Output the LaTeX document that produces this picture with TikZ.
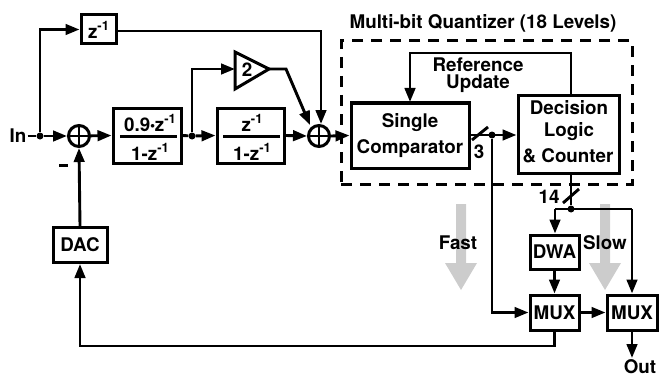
\documentclass[tikz,border=0pt]{standalone}
\usepackage{fontspec}
\setmainfont{TeX Gyre Heros}
\usetikzlibrary{arrows.meta}
\newcommand{\zinv}{z\raisebox{0.42em}{\fontsize{13}{13}\selectfont -1}}
\newcommand{\smdot}{\raisebox{0.17em}{\fontsize{9}{9}\selectfont$\bullet$}}
\tikzset{
  conn/.style={line width=2.9pt,line join=miter},
  arr/.style={conn,-{Triangle[length=14pt,width=10.5pt]}},
  blk/.style={draw,line width=3pt,fill=white,inner sep=0pt,align=center,font=\fontsize{18.8}{24}\selectfont\bfseries},
  lbl/.style={inner sep=0pt,align=center,font=\fontsize{18.8}{19}\selectfont\bfseries},
  sumnode/.style={circle,draw,line width=3pt,minimum size=21pt,inner sep=0pt,fill=white,
    path picture={\draw[line width=2.7pt] (path picture bounding box.north)--(path picture bounding box.south)
      (path picture bounding box.west)--(path picture bounding box.east);}},
  dotnode/.style={circle,fill=black,inner sep=0pt,minimum size=7pt},
  grayarrow/.style={fill=black!20,draw=none}
}
\begin{document}
\begin{tikzpicture}[x=1pt,y=-1pt]
\useasboundingbox (0,0) rectangle (660,377);
% gray flow arrows
\fill[grayarrow] (456,204)--(466,204)--(466,263)--(477,263)--(461,290)--(445,263)--(456,263)--cycle;
\fill[grayarrow] (600,204)--(610,204)--(610,263)--(621,263)--(605,290)--(589,263)--(600,263)--cycle;
% dashed quantizer box
\node[draw,dash pattern=on 11pt off 8pt,line width=3pt,minimum width=291pt,minimum height=143pt,inner sep=0pt] (qbox) at (486.5,112.5) {};
\node[lbl] (qtitle) at (483,23) {Multi-bit Quantizer (18 Levels)};
% blocks
\node[blk,minimum width=35pt,minimum height=29pt] (zd) at (98.5,29.5) {\zinv};
\node[sumnode] (s1) at (79,136) {};
\node[sumnode] (s2) at (319,136) {};
\node[blk,minimum width=68pt,minimum height=55pt] (h1) at (147,135.5) {};
\node[lbl] (h1n) at (150,123) {0.9\smdot\zinv};
\node[lbl] (h1d) at (150,152) {1-\zinv};
\node[blk,minimum width=67pt,minimum height=55pt] (h2) at (250.5,135.5) {};
\node[lbl] (h2n) at (252,123) {\zinv};
\node[lbl] (h2d) at (252,152) {1-\zinv};
\coordinate (a1) at (120,136.5);
\coordinate (b1) at (177,136.5);
\coordinate (a2) at (223,136.5);
\coordinate (b2) at (280,136.5);
\draw[conn] (a1) -- (b1);
\draw[conn] (a2) -- (b2);
\node[blk,minimum width=54pt,minimum height=35pt] (dac) at (80,245) {DAC};
\node[blk,minimum width=118pt,minimum height=65pt] (cmp) at (410,135.5) {};
\node[lbl] (cmp1) at (410,123) {Single};
\node[lbl] (cmp2) at (410,149) {Comparator};
\node[blk,minimum width=101pt,minimum height=77pt] (dec) at (568.5,134.5) {};
\node[lbl] (dec1) at (569,108) {Decision};
\node[lbl] (dec2) at (569,132) {Logic};
\node[lbl] (dec3) at (568,156) {\& Counter};
\node[blk,minimum width=49pt,minimum height=34pt] (dwa) at (554.5,252) {DWA};
\node[blk,minimum width=49pt,minimum height=35pt] (mx1) at (554.5,312.5) {MUX};
\node[blk,minimum width=50pt,minimum height=35pt] (mx2) at (632,312.5) {MUX};
% amplifier
\coordinate (ampin) at (235,69);
\coordinate (ampout) at (269,69);
\draw[line width=3pt,line join=miter] (235,52)--(ampout)--(235,89)--cycle;
\node[lbl] (amp) at (247,70) {2};
% labels
\node[lbl] (in) at (18,136) {In};
\node[lbl] (minus) at (63.5,165) {\rule{9pt}{3pt}};
\node[lbl] (ref) at (478,65) {Reference};
\node[lbl] (upd) at (478,84) {Update};
\node[lbl] (three) at (479,152) {3};
\node[lbl] (fourteen) at (549,197) {14};
\node[lbl] (fast) at (458,243) {Fast};
\node[lbl] (slow) at (605,243) {Slow};
\node[lbl] (out) at (640,367) {Out};
% junctions
\node[dotnode] (d1) at (40,136) {};
\node[dotnode] (d2) at (192,136) {};
\node[dotnode] (d3) at (492,135) {};
\node[dotnode] (d4) at (571,209) {};
\coordinate (c14) at (555,209);
\coordinate (c14r) at (632,209);
\coordinate (bamp) at (286,69);
\coordinate (ctop) at (321,31);
\coordinate (cs2) at (321,124);
\coordinate (cs2w) at (310,125);
\coordinate (cfb) at (410,53);
\coordinate (cfbe) at (410,102);
\coordinate (cout) at (632,358);
\coordinate (cbot) at (80,346);
\coordinate (t1) at (472,140);
\coordinate (t2) at (488,127);
\coordinate (u1) at (563,203);
\coordinate (u2) at (579,189);
% connectors
\draw[conn] (in.east) ++(1,0) -- (d1);
\draw[arr] (d1) -- (s1);
\draw[arr] (d1) |- (zd.west);
\draw[arr] (zd.east |- ctop) -- (ctop) -- (cs2);
\draw[arr] (s1) -- (h1.west);
\draw[conn] (h1.east) -- (d2);
\draw[arr] (d2) -- (h2.west);
\draw[arr] (d2) |- (ampin);
\draw[arr] (ampout) -- (bamp) -- (cs2w);
\draw[arr] (h2.east) -- (s2.west);
\draw[arr] (s2.east) -- (cmp.west);
\draw[arr] (dac.north) -- (s1.south);
\draw[arr] (dec.north -| d4) |- (cfb) -- (cfbe);
\draw[arr] (cmp.east |- d3) -- (dec.west |- d3);
\draw[conn] (t1) -- (t2);
\draw[arr] (d3) |- (mx1.west);
\draw[conn] (dec.south -| d4) -- (d4);
\draw[conn] (u1) -- (u2);
\draw[conn] (c14) -- (c14r);
\draw[arr] (c14) -- (dwa.north -| c14);
\draw[arr] (c14r) -- (mx2.north);
\draw[arr] (dwa.south) -- (mx1.north);
\draw[arr] (mx1.east) -- (mx2.west);
\draw[arr] (mx2.south) -- (cout);
\draw[arr] (mx1.south) |- (cbot) -- (dac.south);
\end{tikzpicture}
\end{document}
